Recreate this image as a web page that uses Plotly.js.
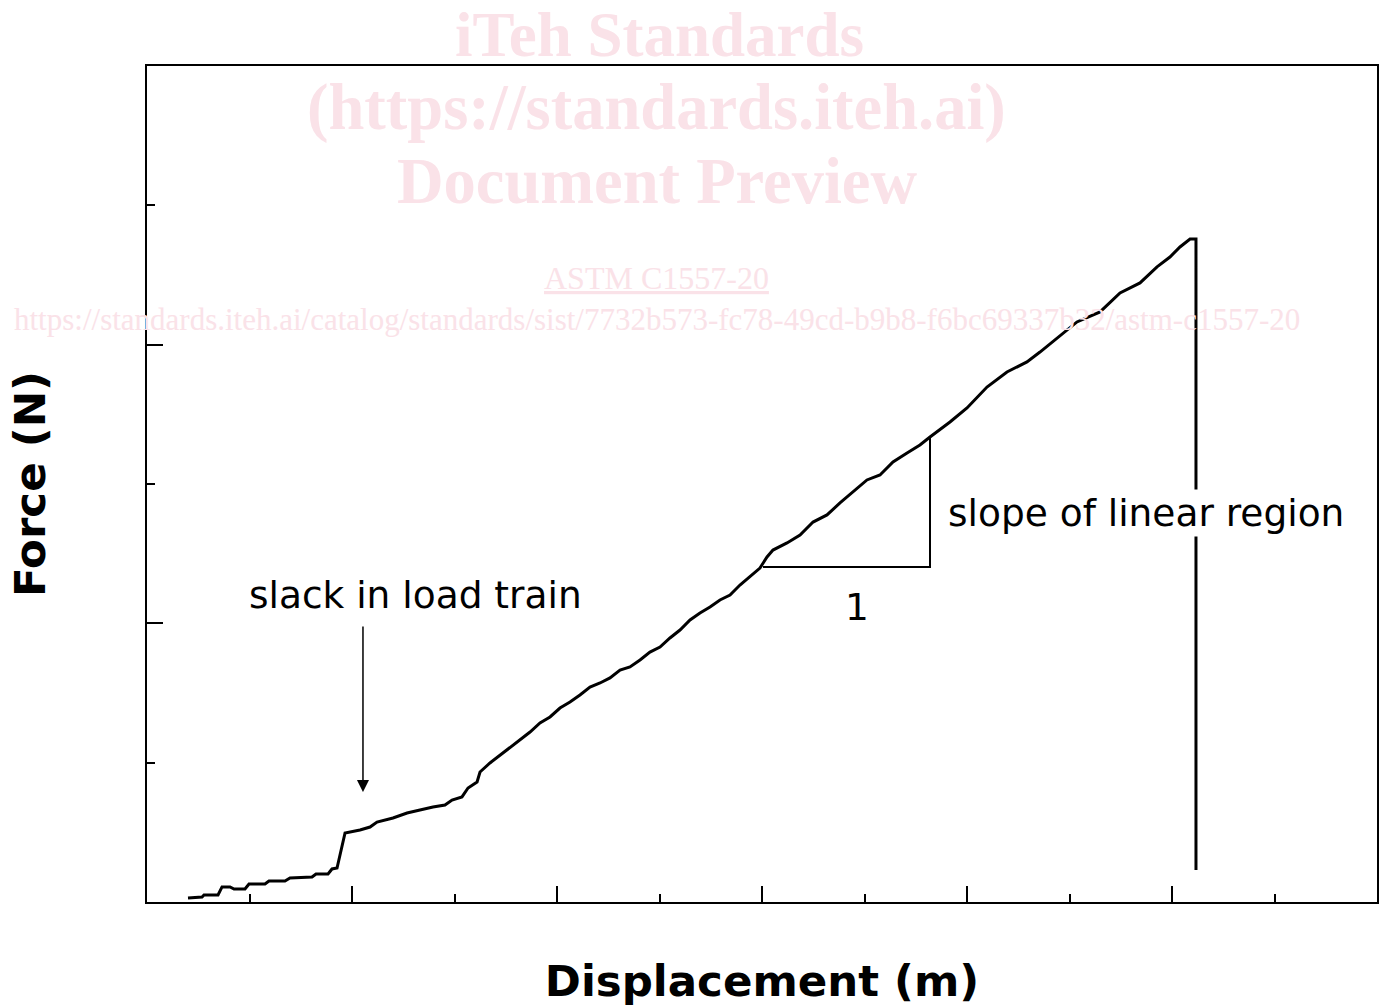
<!DOCTYPE html>
<html><head><meta charset="utf-8">
<script src="https://cdn.plot.ly/plotly-3.0.1.min.js"></script>
<style>html,body{margin:0;padding:0;background:#fff;}#chart{width:1382px;height:1006px;}</style>
</head><body><div id="chart"></div>
<script>
const displacement = [0.400,0.537,0.556,0.693,0.732,0.810,0.849,0.956,0.995,1.151,1.190,1.346,1.395,1.610,1.649,1.766,1.805,1.854,
  1.932,2.078,2.176,2.244,2.400,2.537,2.663,2.790,2.907,2.976,3.073,3.132,3.220,3.249,3.346,3.444,3.541,3.639,3.737,3.834,3.932,
  4.029,4.127,4.224,4.322,4.420,4.517,4.615,4.712,4.810,4.907,5.005,5.102,5.200,5.298,5.395,5.493,5.590,5.688,5.785,5.883,5.980,
  6.049,6.107,6.244,6.371,6.498,6.634,6.761,6.888,7.024,7.151,7.278,7.415,7.541,7.639,7.834,8.000,8.195,8.390,8.585,8.712,8.878,
  9.073,9.298,9.493,9.688,9.854,9.980,10.078,10.176,10.234,10.234];
const force = [0.029,0.036,0.050,0.050,0.108,0.108,0.093,0.093,0.129,0.129,0.151,0.151,0.172,0.179,0.201,0.201,0.237,0.244,
  0.495,0.517,0.538,0.574,0.603,0.639,0.660,0.682,0.696,0.732,0.754,0.818,0.861,0.933,0.998,1.055,1.112,1.163,1.220,1.285,1.328,
  1.392,1.435,1.486,1.543,1.572,1.608,1.665,1.687,1.737,1.794,1.830,1.895,1.952,2.024,2.074,2.117,2.168,2.203,2.275,2.333,2.397,
  2.476,2.526,2.577,2.634,2.727,2.778,2.864,2.943,3.029,3.065,3.158,3.223,3.280,3.337,3.445,3.546,3.696,3.804,3.876,3.947,4.048,
  4.163,4.235,4.371,4.443,4.558,4.629,4.701,4.758,4.758,0.230];
const slopeX = [6.01, 7.639, 7.639];
const slopeY = [2.404, 2.404, 3.337];
const slackArrowX = 2.107, slackArrowTail = 1.988, slackArrowHead = 0.79;
const labels = {slack: 'slack in load train', run: '1', slope: 'slope of linear region'};
const xTitle = 'Displacement (m)', yTitle = 'Force (N)';
const watermark = ['iTeh Standards', '(https://standards.iteh.ai)', 'Document Preview', 'ASTM C1557-20',
  'https://standards.iteh.ai/catalog/standards/sist/7732b573-fc78-49cd-b9b8-f6bc69337b32/astm-c1557-20'];

const pink = '#fae2e8';
const bodyFont = {family: 'DejaVu Sans, Verdana, sans-serif', size: 37.5, color: '#000'};
const titleFont = {family: 'DejaVu Sans, Verdana, sans-serif', size: 43.5, color: '#000'};
const wmFont = (s, w) => ({family: 'Liberation Serif, Times New Roman, serif', size: s, color: pink, weight: w});

const traces = [
  {x: displacement, y: force, mode: 'lines', line: {color: '#000', width: 3}, hoverinfo: 'skip'},
  {x: slopeX, y: slopeY, mode: 'lines', line: {color: '#000', width: 2}, hoverinfo: 'skip'}
];

const axisCommon = {showgrid: false, zeroline: false, showticklabels: false, showline: true, linecolor: '#000', linewidth: 2,
  mirror: true, ticks: 'inside', ticklen: 16, tickwidth: 2, tickcolor: '#000', dtick: 2, tick0: 0,
  minor: {ticks: 'inside', dtick: 1, ticklen: 8, tickwidth: 2, tickcolor: '#000', showgrid: false}};

const layout = {
  width: 1382, height: 1006, showlegend: false,
  paper_bgcolor: '#fff', plot_bgcolor: '#fff',
  margin: {l: 147, r: 5, t: 66, b: 104},
  xaxis: Object.assign({}, axisCommon, {range: [0, 12],
    title: {text: '<b>' + xTitle + '</b>', font: titleFont, standoff: 64}}),
  yaxis: Object.assign({}, axisCommon, {range: [0, 6],
    title: {text: '<b>' + yTitle + '</b>', font: titleFont, standoff: 86}}),
  annotations: [
    {x: 2.62, y: 2.203, xref: 'x', yref: 'y', text: labels.slack, showarrow: false, font: bodyFont},
    {x: slackArrowX, y: slackArrowHead, ax: slackArrowX, ay: slackArrowTail, axref: 'x', ayref: 'y', xref: 'x', yref: 'y',
      text: '', showarrow: true, arrowhead: 2, arrowsize: 1.6, arrowwidth: 1.5, arrowcolor: '#000'},
    {x: 6.927, y: 2.117, xref: 'x', yref: 'y', text: labels.run, showarrow: false, font: bodyFont},
    {x: 9.746, y: 2.792, xref: 'x', yref: 'y', text: labels.slope, showarrow: false, font: bodyFont, bgcolor: '#fff', borderpad: 1},
    {x: 0.4163, y: 1.0383, yshift: 30, height: 58, xref: 'paper', yref: 'paper', text: watermark[0], showarrow: false, font: wmFont(63, 'bold')},
    {x: 0.4146, y: 0.9474, yshift: 40, xref: 'paper', yref: 'paper', text: watermark[1], showarrow: false, font: wmFont(64.5, 'bold')},
    {x: 0.4146, y: 0.8612, yshift: 38, xref: 'paper', yref: 'paper', text: watermark[2], showarrow: false, font: wmFont(64.5, 'bold')},
    {x: 0.4146, y: 0.7464, yshift: 20, xref: 'paper', yref: 'paper', text: watermark[3], showarrow: false,
      font: Object.assign(wmFont(32, 'normal'), {lineposition: 'under'})},
    {x: 0.4146, y: 0.6986, yshift: 18, xref: 'paper', yref: 'paper', text: watermark[4], showarrow: false, font: wmFont(31, 'normal')}
  ]
};
Plotly.newPlot('chart', traces, layout, {staticPlot: true, displayModeBar: false});
</script></body></html>
